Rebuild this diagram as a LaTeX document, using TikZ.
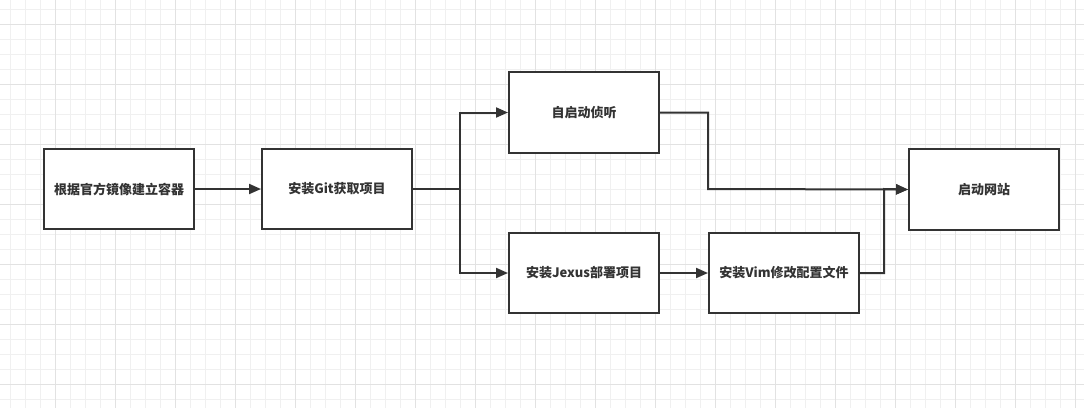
\documentclass[tikz,border=0pt]{standalone}
\usepackage{fontspec}
\usepackage{tikz}
\usepackage{xcolor}
\usetikzlibrary{arrows, arrows.meta, positioning}
\newfontfamily\cjk{Noto Sans CJK SC}
\definecolor{ink}{HTML}{333333}
\definecolor{gridminor}{HTML}{F0F0F0}
\definecolor{gridmajor}{HTML}{E2E2E2}

\begin{document}
\begin{tikzpicture}[x=1pt, y=-1pt,
    steps/.style={draw=ink, line width=2pt, fill=white, minimum width=150pt, minimum height=80pt, inner sep=0pt, text=ink, font=\cjk\bfseries\fontsize{13pt}{15pt}\selectfont},
    arr/.style={draw=ink, line width=2pt, -{Triangle[length=12pt, width=10pt]}},
    minor/.style={draw=gridminor, line width=1pt},
    major/.style={draw=gridmajor, line width=1pt}]
        \useasboundingbox (0,0) rectangle (1084,408);
        \fill[white] (0,0) rectangle (1084,408);
        \foreach \x in {10.5,25.5,...,1084} \draw[minor] (\x,0) -- (\x,408);
        \foreach \y in {9,24,...,408} \draw[minor] (0,\y) -- (1084,\y);
        \foreach \x in {55.5,115.5,...,1084} \draw[major] (\x,0) -- (\x,408);
        \foreach \y in {24,84,...,408} \draw[major] (0,\y) -- (1084,\y);

        \node[steps] (image) at (119,189) {根据官方镜像建立容器};
        \node[steps] (git) at (337,189) {安装Git获取项目};
        \node[steps, minimum height=81pt] (listen) at (584,112.5) {自启动侦听};
        \node[steps] (jexus) at (584,273) {安装Jexus部署项目};
        \node[steps] (vim) at (784,273) {安装Vim修改配置文件};
        \node[steps, minimum height=81pt] (site) at (984,189.5) {启动网站};

        \coordinate (fork) at (460,189);
        \coordinate (joinA) at (708,189);
        \coordinate (joinB) at (884,189);

        \draw[arr] (image) -- (git);
        \draw[draw=ink, line width=2pt] (git.east) -- (fork);
        \draw[arr] (fork) |- (listen.west);
        \draw[arr] (fork) |- (jexus.west);
        \draw[arr] (jexus) -- (vim);
        \draw[arr] (listen.east) -| (joinA) -- (site.west);
        \draw[arr] (vim.east) -| (joinB) -- (site.west);
\end{tikzpicture}
\end{document}
